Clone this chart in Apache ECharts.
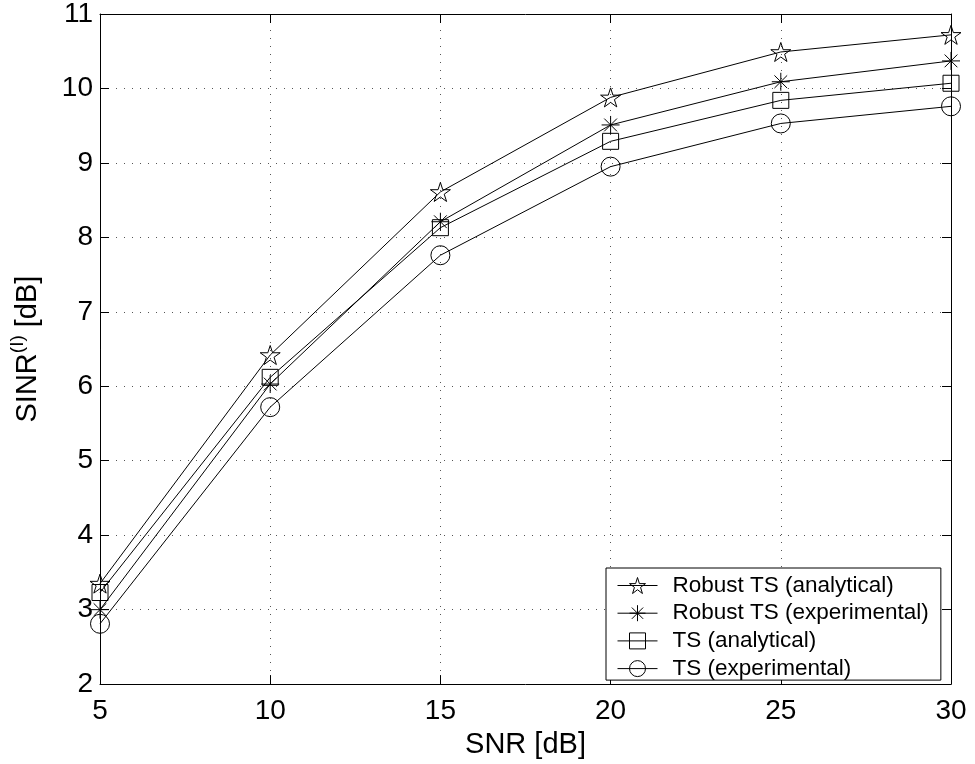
<!DOCTYPE html>
<html><head><meta charset="utf-8">
<script src="https://cdn.jsdelivr.net/npm/echarts@6/dist/echarts.min.js"></script>
<style>html,body{margin:0;padding:0;background:#fff}#c{width:975px;height:764px}</style>
</head><body><div id="c"></div>
<script>
const snr = [5, 10, 15, 20, 25, 30];
const robustAnalytical = [3.35, 6.42, 8.61, 9.88, 10.49, 10.72];
const robustExperimental = [3.00, 6.03, 8.21, 9.51, 10.09, 10.37];
const tsAnalytical = [3.23, 6.12, 8.13, 9.29, 9.84, 10.07];
const tsExperimental = [2.81, 5.72, 7.76, 8.95, 9.53, 9.76];
const seriesNames = ['Robust TS (analytical)', 'Robust TS (experimental)', 'TS (analytical)', 'TS (experimental)'];
const xRange = { min: 5, max: 30, interval: 5 };
const yRange = { min: 2, max: 11, interval: 1 };
const xName = 'SNR [dB]';

const FONT = 'Liberation Sans, Arial, Helvetica, sans-serif';
const STAR = 'path://M0,-100L22.45,-30.9L95.1,-30.9L36.3,11.8L58.8,80.9L0,38.2L-58.8,80.9L-36.3,11.8L-95.1,-30.9L-22.45,-30.9Z';
const AST = 'path://M0,-100L0,100M-100,0L100,0M-70.7,-70.7L70.7,70.7M-70.7,70.7L70.7,-70.7';

function pairs(ys) { return snr.map((x, i) => [x, ys[i]]); }

const seriesDefs = [
  { name: seriesNames[0], data: robustAnalytical, symbol: STAR, size: 20 },
  { name: seriesNames[1], data: robustExperimental, symbol: AST, size: 18 },
  { name: seriesNames[2], data: tsAnalytical, symbol: 'rect', size: 16 },
  { name: seriesNames[3], data: tsExperimental, symbol: 'circle', size: 19 }
];

const chart = echarts.init(document.getElementById('c'), null, { renderer: 'canvas' });
const tickCommon = { inside: true, length: 9, lineStyle: { color: '#000', width: 1 } };
const lineCommon = { show: true, lineStyle: { color: '#000', width: 1 } };

chart.setOption({
  animation: false,
  backgroundColor: '#fff',
  grid: { left: 97, right: 24, top: 12, bottom: 76, containLabel: false },
  xAxis: [
    {
      type: 'value', min: xRange.min, max: xRange.max, interval: xRange.interval,
      position: 'bottom',
      name: xName, nameLocation: 'middle', nameGap: 40,
      nameTextStyle: { fontFamily: FONT, fontSize: 29, color: '#000' },
      axisLine: lineCommon, axisTick: tickCommon,
      axisLabel: { fontFamily: FONT, fontSize: 28, color: '#000', margin: 13 },
      splitLine: { show: true, lineStyle: { color: '#555', width: 1, type: [1, 7] } }
    },
    {
      type: 'value', min: xRange.min, max: xRange.max, interval: xRange.interval,
      position: 'top', axisLine: lineCommon, axisTick: tickCommon,
      axisLabel: { show: false }, splitLine: { show: false }
    }
  ],
  yAxis: [
    {
      type: 'value', min: yRange.min, max: yRange.max, interval: yRange.interval,
      position: 'left',
      name: '{a|SINR}{s|(I)}{a| [dB]}', nameLocation: 'middle', nameGap: 58,
      nameTextStyle: {
        fontFamily: FONT, fontSize: 29, color: '#000',
        rich: {
          a: { fontFamily: FONT, fontSize: 29, color: '#000', lineHeight: 34, verticalAlign: 'bottom' },
          s: { fontFamily: FONT, fontSize: 19, color: '#000', lineHeight: 34, verticalAlign: 'top', padding: [0, 0, 14, 0] }
        }
      },
      axisLine: lineCommon, axisTick: tickCommon,
      axisLabel: { fontFamily: FONT, fontSize: 28, color: '#000', margin: 7 },
      splitLine: { show: true, lineStyle: { color: '#555', width: 1, type: [1, 7] } }
    },
    {
      type: 'value', min: yRange.min, max: yRange.max, interval: yRange.interval,
      position: 'right', axisLine: lineCommon, axisTick: tickCommon,
      axisLabel: { show: false }, splitLine: { show: false }
    }
  ],
  legend: {
    orient: 'vertical', left: 606, top: 568,
    padding: [6, 12, 0, 11],
    itemWidth: 40, itemHeight: 20, itemGap: 4.7,
    backgroundColor: '#fff', borderColor: '#000', borderWidth: 1, borderRadius: 0,
    itemStyle: { color: 'rgba(0,0,0,0)', borderColor: '#000', borderWidth: 1 },
    lineStyle: { color: '#000', width: 1 },
    textStyle: { fontFamily: FONT, fontSize: 22.5, color: '#000', padding: [0, 0, 0, 10] },
    data: seriesNames
  },
  series: seriesDefs.map(d => ({
    type: 'line', name: d.name, data: pairs(d.data),
    symbol: d.symbol, symbolSize: d.size, symbolKeepAspect: true,
    showAllSymbol: true,
    lineStyle: { color: '#000', width: 1 },
    itemStyle: { color: 'rgba(0,0,0,0)', borderColor: '#000', borderWidth: 1 },
    emphasis: { disabled: true },
    z: 3
  }))
});
</script></body></html>
